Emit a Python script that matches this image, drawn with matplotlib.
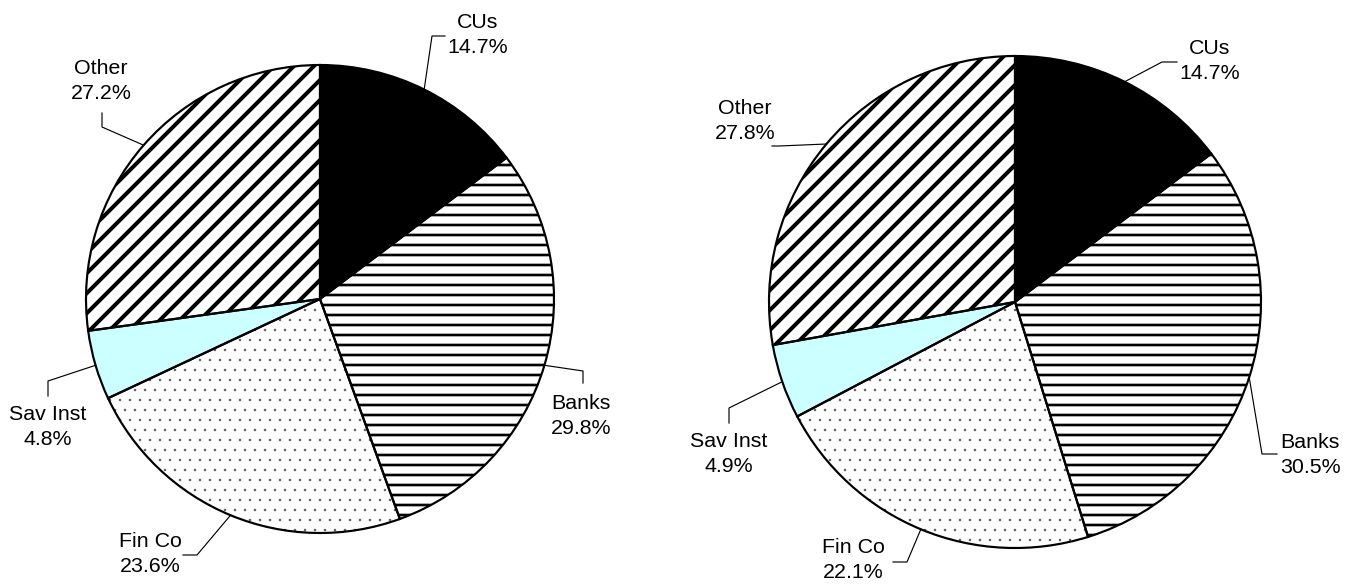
import matplotlib.pyplot as plt
import numpy as np

# Market share by lender type, two periods
categories = ['CUs', 'Banks', 'Fin Co', 'Sav Inst', 'Other']
share_left = [14.7, 29.8, 23.6, 4.8, 27.2]
share_right = [14.7, 30.5, 22.1, 4.9, 27.8]

W, H, DPI = 1356, 586, 120

plt.rcParams['font.family'] = ['Liberation Sans', 'DejaVu Sans']

# slice styling, same order as categories
fills = ['black', 'white', 'white', '#ccffff', 'white']
hatches = [None, '--', '..', None, '//']
hatch_colors = ['black', 'black', '#555555', '#ccffff', 'black']
hatch_widths = [1.0, 1.6, 0.3, 1.0, 2.4]

# pie placement in pixels (x, y from top, radius)
pies = [
    dict(values=share_left, center=(320, 299), radius=234,
         text_pos=[(478, 35), (581, 416), (150, 554), (48, 427), (101, 81)],
         elbows=[[(445, 36), (432, 36)], [(583, 383), (583, 371)],
                 [(183, 555), (197, 555)], [(48, 396), (48, 381)],
                 [(102, 113), (102, 127)]]),
    dict(values=share_right, center=(1015, 302), radius=246,
         text_pos=[(1210, 61), (1310, 455), (853, 560), (729, 454), (745, 121)],
         elbows=[[(1177, 62), (1162, 62)], [(1277, 454), (1262, 454)],
                 [(893, 562), (907, 562)], [(729, 423), (729, 408)],
                 [(772, 146), (779, 146)]]),
]

fig = plt.figure(figsize=(W / DPI, H / DPI), dpi=DPI)
ax = fig.add_axes([0, 0, 1, 1])

for p in pies:
    cx, cy = p['center'][0], H - p['center'][1]
    r = p['radius']
    vals = p['values']

    # fills and hatching first, outlines on top
    wedges, _ = ax.pie(vals, colors=fills, startangle=90, counterclock=False,
                       center=(cx, cy), radius=r, normalize=True,
                       wedgeprops=dict(linewidth=0))
    for w, h, hc, hw in zip(wedges, hatches, hatch_colors, hatch_widths):
        w.set_edgecolor(hc)
        if h:
            w.set_hatch(h)
            if hasattr(w, 'set_hatch_linewidth'):
                w.set_hatch_linewidth(hw)
    ax.pie(vals, colors=['none'] * len(vals), startangle=90, counterclock=False,
           center=(cx, cy), radius=r, normalize=True,
           wedgeprops=dict(linewidth=1.3, edgecolor='black', fill=False))

    # labels with elbow leader lines to the middle of each slice
    frac = np.array(vals) / np.sum(vals)
    mids = np.cumsum(frac) - frac / 2
    for name, v, m, tp, elb in zip(categories, vals, mids, p['text_pos'], p['elbows']):
        theta = np.deg2rad(90 - 360 * m)
        ex, ey = cx + r * np.cos(theta), cy + r * np.sin(theta)
        xs = [elb[0][0], elb[1][0], ex]
        ys = [H - elb[0][1], H - elb[1][1], ey]
        ax.plot(xs, ys, color='black', linewidth=0.7)
        ax.text(tp[0], H - tp[1], f'{name}\n{v:.1f}%', ha='center', va='center',
                fontsize=12.8, linespacing=1.45)

ax.set_aspect('equal')
ax.set_xlim(0, W)
ax.set_ylim(0, H)
ax.axis('off')

fig.savefig('out.png', dpi=DPI, facecolor='white')
